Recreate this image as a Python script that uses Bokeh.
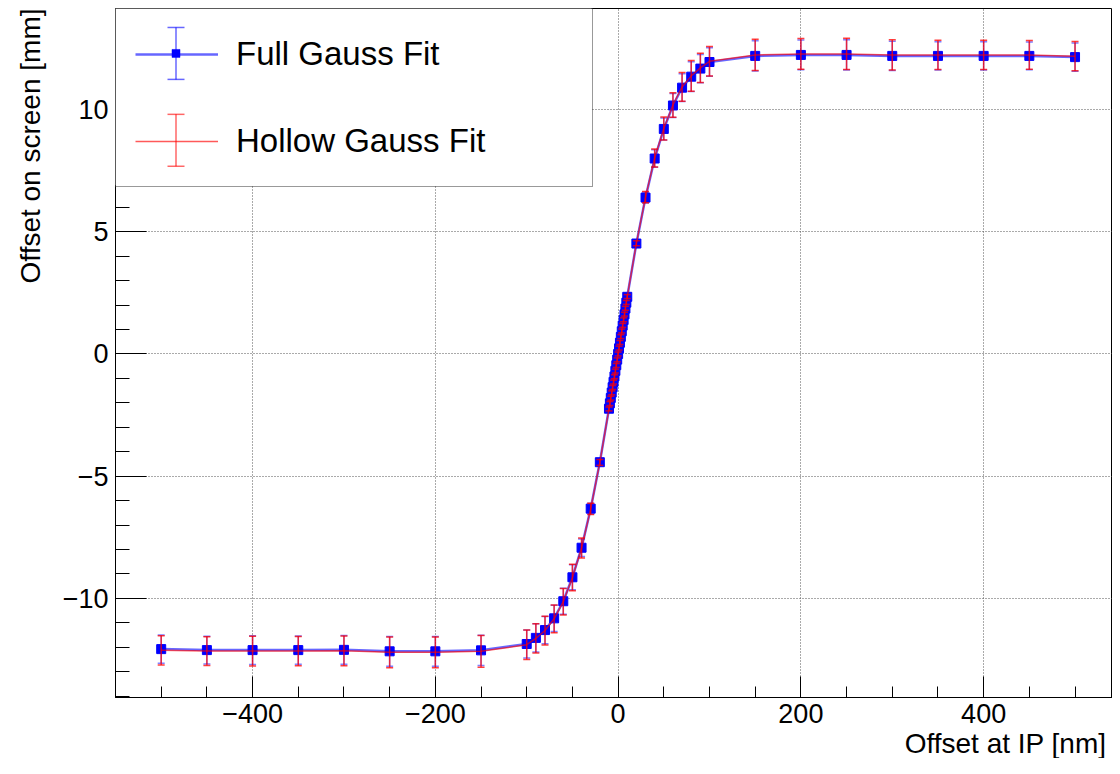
from bokeh.plotting import figure
from bokeh.models import ColumnDataSource, FixedTicker, Legend, LegendItem, Title
from bokeh.embed import file_html
from bokeh.resources import INLINE

# ---------------- data ----------------
x_nm = [-500, -450, -400, -350, -300, -250, -200, -150, -100, -90, -80, -70, -60, -50, -40, -30, -20,
        -10, -9, -8, -7, -6, -5, -4, -3, -2, -1, 0, 1, 2, 3, 4, 5, 6, 7, 8, 9, 10,
        20, 30, 40, 50, 60, 70, 80, 90, 100, 150, 200, 250, 300, 350, 400, 450, 500]

full_y = [-12.08, -12.12, -12.12, -12.12, -12.11, -12.17, -12.17, -12.13, -11.87, -11.62, -11.30, -10.82,
          -10.12, -9.14, -7.93, -6.33, -4.43,
          -2.24, -2.02, -1.80, -1.58, -1.36, -1.14, -0.92, -0.69, -0.46, -0.23, 0.00, 0.23, 0.46, 0.70,
          0.93, 1.16, 1.39, 1.62, 1.86, 2.10, 2.34,
          4.52, 6.40, 8.00, 9.21, 10.17, 10.90, 11.35, 11.68, 11.95, 12.20, 12.24, 12.24, 12.20, 12.20,
          12.20, 12.20, 12.15]
full_err = [0.58, 0.57, 0.59, 0.58, 0.59, 0.61, 0.61, 0.62, 0.57, 0.58, 0.56, 0.54, 0.53, 0.51, 0.36, 0.22, 0.11,
            0.07, 0.07, 0.07, 0.07, 0.07, 0.07, 0.07, 0.07, 0.07, 0.07, 0.07, 0.07, 0.07, 0.07,
            0.07, 0.07, 0.07, 0.07, 0.07, 0.07, 0.07,
            0.09, 0.22, 0.36, 0.45, 0.49, 0.57, 0.61, 0.58, 0.58, 0.62, 0.61, 0.62, 0.60, 0.58,
            0.58, 0.57, 0.58]

hollow_y = [-12.13, -12.16, -12.16, -12.16, -12.15, -12.21, -12.21, -12.17, -11.90, -11.64, -11.32, -10.84,
            -10.14, -9.15, -7.94, -6.34, -4.44,
            -2.25, -2.03, -1.81, -1.59, -1.37, -1.15, -0.93, -0.70, -0.47, -0.24, 0.00, 0.24, 0.47, 0.71,
            0.94, 1.17, 1.40, 1.63, 1.87, 2.11, 2.35,
            4.53, 6.42, 8.02, 9.23, 10.19, 10.93, 11.38, 11.71, 11.98, 12.24, 12.28, 12.28, 12.24, 12.24,
            12.24, 12.24, 12.19]
hollow_err = [0.60, 0.59, 0.61, 0.60, 0.61, 0.63, 0.63, 0.65, 0.60, 0.60, 0.59, 0.57, 0.54, 0.54, 0.41, 0.23, 0.12,
              0.08, 0.08, 0.08, 0.08, 0.08, 0.08, 0.08, 0.08, 0.08, 0.08, 0.08, 0.08, 0.08, 0.08,
              0.08, 0.08, 0.08, 0.08, 0.08, 0.08, 0.08,
              0.10, 0.23, 0.37, 0.47, 0.50, 0.59, 0.63, 0.60, 0.60, 0.64, 0.63, 0.64, 0.62, 0.60,
              0.60, 0.59, 0.60]

series_labels = ["Full Gauss Fit", "Hollow Gauss Fit"]
x_major = [-400, -200, 0, 200, 400]
x_major_labels = ["\u2212400", "\u2212200", "0", "200", "400"]
y_major = [-10, -5, 0, 5, 10]
y_major_labels = ["\u221210", "\u22125", "0", "5", "10"]
x_title = "Offset at IP [nm]"
y_title = "Offset on screen [mm]"

FONT = "Liberation Sans"
BLUE = "#0000ff"
RED = "#ff0000"

# ---------------- layout constants ----------------
W, H = 1112, 758
BORDER_L, BORDER_T, BORDER_B, BORDER_R = 115, 8, 60, 0
X0, X1 = -550, 541
Y0, Y1 = -14.06, 14.14
FRAME_W = W - BORDER_L - BORDER_R
FRAME_H = H - BORDER_T - BORDER_B

# ---------------- figure ----------------
p = figure(width=W, height=H, x_range=(X0, X1), y_range=(Y0, Y1),
           output_backend="svg", toolbar_location=None,
           min_border_left=BORDER_L, min_border_top=BORDER_T,
           min_border_bottom=BORDER_B, min_border_right=BORDER_R)
p.background_fill_color = "white"
p.border_fill_color = "white"
p.outline_line_color = "black"
p.outline_line_width = 1

p.xaxis.ticker = FixedTicker(ticks=x_major, minor_ticks=list(range(-550, 551, 50)))
p.yaxis.ticker = FixedTicker(ticks=y_major, minor_ticks=list(range(-14, 15, 1)))
p.xaxis.major_label_overrides = dict(zip(x_major, x_major_labels))
p.yaxis.major_label_overrides = dict(zip(y_major, y_major_labels))

for ax in (p.xaxis[0], p.yaxis[0]):
    ax.axis_line_color = "black"
    ax.axis_line_width = 1
    ax.major_tick_line_color = "black"
    ax.minor_tick_line_color = "black"
    ax.major_tick_out = 0
    ax.minor_tick_out = 0
    ax.major_label_text_font = FONT
    ax.major_label_text_font_size = "27px"
    ax.major_label_text_color = "black"

p.xaxis.major_tick_in = 21
p.xaxis.minor_tick_in = 11
p.yaxis.major_tick_in = 31
p.yaxis.minor_tick_in = 14
p.xaxis.major_label_standoff = 6
p.yaxis.major_label_standoff = 7

# axis titles, right / top aligned like the original
p.add_layout(Title(text=x_title, align="right", offset=6, standoff=0,
                   text_font=FONT, text_font_size="28px", text_font_style="normal",
                   text_color="black"), "below")
p.add_layout(Title(text=y_title, align="right", vertical_align="top", offset=0, standoff=24,
                   text_font=FONT, text_font_size="28px", text_font_style="normal",
                   text_color="black"), "left")

for g in (p.xgrid, p.ygrid):
    g.grid_line_color = "#555555"
    g.grid_line_dash = "1 2"
    g.grid_line_width = 1

# ---------------- sources ----------------
src_full = ColumnDataSource(dict(
    x=x_nm, y=full_y,
    lo=[v - e for v, e in zip(full_y, full_err)],
    hi=[v + e for v, e in zip(full_y, full_err)]))
src_hollow = ColumnDataSource(dict(
    x=x_nm, y=hollow_y,
    lo=[v - e for v, e in zip(hollow_y, hollow_err)],
    hi=[v + e for v, e in zip(hollow_y, hollow_err)]))

# Full gauss fit (blue): error bars, line, markers
p.segment(x0="x", y0="lo", x1="x", y1="hi", source=src_full, line_color=BLUE, line_alpha=0.45, line_width=1.5)
p.scatter(x="x", y="lo", source=src_full, marker="dash", size=7, line_color=BLUE, line_alpha=0.5, line_width=1.5)
p.scatter(x="x", y="hi", source=src_full, marker="dash", size=7, line_color=BLUE, line_alpha=0.5, line_width=1.5)
blue_line = p.line(x="x", y="y", source=src_full, line_color=BLUE, line_alpha=0.6, line_width=2.5)
p.scatter(x="x", y="y", source=src_full, marker="square", size=9,
          fill_color=BLUE, line_color=BLUE, line_width=1)

# Hollow gauss fit (red): error bars, line
p.segment(x0="x", y0="lo", x1="x", y1="hi", source=src_hollow, line_color=RED, line_alpha=0.75, line_width=1.5)
p.scatter(x="x", y="lo", source=src_hollow, marker="dash", size=7, line_color=RED, line_alpha=0.75, line_width=1.5)
p.scatter(x="x", y="hi", source=src_hollow, marker="dash", size=7, line_color=RED, line_alpha=0.75, line_width=1.5)
red_line = p.line(x="x", y="y", source=src_hollow, line_color=RED, line_alpha=0.65, line_width=1.5)

# ---------------- legend ----------------
LEG_PAD, LEG_SPACING, GLYPH_W, GLYPH_H, LBL_STANDOFF, LBL_W = 19, 35, 83, 52, 18, 337
LEG_W = 2 * LEG_PAD + GLYPH_W + LBL_STANDOFF + LBL_W
LEG_H = 2 * LEG_PAD + 2 * GLYPH_H + LEG_SPACING

def px_to_x(px):
    return X0 + px / FRAME_W * (X1 - X0)

def px_to_y(py):
    return Y1 - py / FRAME_H * (Y1 - Y0)

# opaque white backing of the legend box (covers grid, axis ticks under it)
bg_src = ColumnDataSource(dict(l=[px_to_x(0)], r=[px_to_x(LEG_W)], t=[px_to_y(0)], b=[px_to_y(LEG_H)]))
p.quad(left="l", right="r", top="t", bottom="b", source=bg_src, fill_color="white", fill_alpha=1.0,
       line_color=None, level="overlay")

# legend symbols (vertical error bar + marker) placed from the legend layout
sym_cx = px_to_x(LEG_PAD + GLYPH_W / 2)
row_cy = [LEG_PAD + GLYPH_H / 2, LEG_PAD + GLYPH_H + LEG_SPACING + GLYPH_H / 2]
for cy, color in zip(row_cy, [BLUE, RED]):
    leg_src = ColumnDataSource(dict(x=[sym_cx], top=[px_to_y(cy - GLYPH_H / 2)],
                                    bot=[px_to_y(cy + GLYPH_H / 2)], y=[px_to_y(cy)]))
    p.segment(x0="x", y0="bot", x1="x", y1="top", source=leg_src, line_color=color,
              line_alpha=0.6, line_width=1.5, level="overlay")
    p.scatter(x="x", y="top", source=leg_src, marker="dash", size=17, line_color=color,
              line_alpha=0.6, line_width=1.5, level="overlay")
    p.scatter(x="x", y="bot", source=leg_src, marker="dash", size=17, line_color=color,
              line_alpha=0.6, line_width=1.5, level="overlay")
    if color == BLUE:
        p.scatter(x="x", y="y", source=leg_src, marker="square", size=8, fill_color=BLUE,
                  line_color=BLUE, line_width=0.5, level="overlay")

legend = Legend(items=[LegendItem(label=series_labels[0], renderers=[blue_line]),
                       LegendItem(label=series_labels[1], renderers=[red_line])],
                location="top_left", margin=0, padding=LEG_PAD, spacing=LEG_SPACING,
                glyph_width=GLYPH_W, glyph_height=GLYPH_H, label_standoff=LBL_STANDOFF, label_width=LBL_W,
                label_text_font=FONT, label_text_font_size="33px", label_text_color="black",
                border_line_color="#333333", border_line_width=1.5,
                background_fill_alpha=0.0, level="overlay")
p.add_layout(legend)

open("out.html", "w").write(file_html(p, INLINE))
